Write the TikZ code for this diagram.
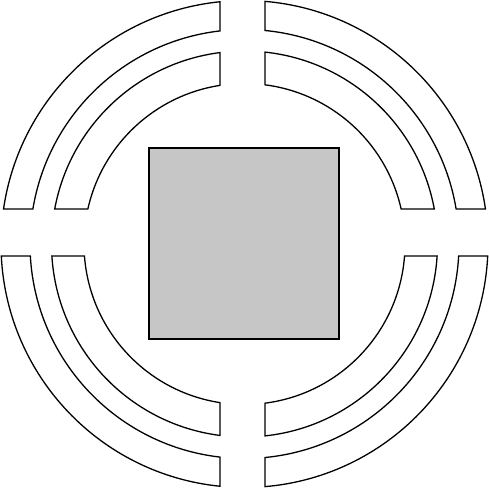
\documentclass[tikz,border=0pt]{standalone}
\usepackage{xcolor}
\usepackage{tikz}
\usetikzlibrary{calc}
\definecolor{boxgray}{RGB}{198,198,198}

\tikzset{
  ringpiece/.style={draw=black, line width=1.3pt, fill=white, line join=miter},
  centerbox/.style={draw=black, line width=1.3pt, fill=boxgray}
}

\begin{document}
\begin{tikzpicture}[x=1pt, y=1pt]
  \useasboundingbox (-244.5,-244) rectangle (244.5,244);

  % Centre square
  \draw[centerbox] (-95.5,-95) rectangle (94.5,96);

  % Upper left pieces
  \foreach \ri/\ro in {214.5/243.5, 160.5/193}
    \draw[ringpiece] ({acos(-24.5/\ro)}:\ro)
      arc[start angle={acos(-24.5/\ro)}, end angle={180-asin(35/\ro)}, radius=\ro]
      -- ({180-asin(35/\ri)}:\ri)
      arc[start angle={180-asin(35/\ri)}, end angle={acos(-24.5/\ri)}, radius=\ri]
      -- cycle;

  % Lower left pieces
  \foreach \ri/\ro in {214.5/243.5, 160.5/193}
    \draw[ringpiece] ({-acos(-24.5/\ro)}:\ro)
      arc[start angle={-acos(-24.5/\ro)}, end angle={-180+asin(12/\ro)}, radius=\ro]
      -- ({-180+asin(12/\ri)}:\ri)
      arc[start angle={-180+asin(12/\ri)}, end angle={-acos(-24.5/\ri)}, radius=\ri]
      -- cycle;

  % Lower right pieces
  \foreach \ri/\ro in {214.5/243.5, 160.5/193}
    \draw[ringpiece] ({-acos(20.5/\ro)}:\ro)
      arc[start angle={-acos(20.5/\ro)}, end angle={-asin(12/\ro)}, radius=\ro]
      -- ({-asin(12/\ri)}:\ri)
      arc[start angle={-asin(12/\ri)}, end angle={-acos(20.5/\ri)}, radius=\ri]
      -- cycle;

  % Upper right pieces
  \foreach \ri/\ro in {214.5/243.5, 160.5/193}
    \draw[ringpiece] ({acos(20.5/\ro)}:\ro)
      arc[start angle={acos(20.5/\ro)}, end angle={asin(35/\ro)}, radius=\ro]
      -- ({asin(35/\ri)}:\ri)
      arc[start angle={asin(35/\ri)}, end angle={acos(20.5/\ri)}, radius=\ri]
      -- cycle;
\end{tikzpicture}
\end{document}
